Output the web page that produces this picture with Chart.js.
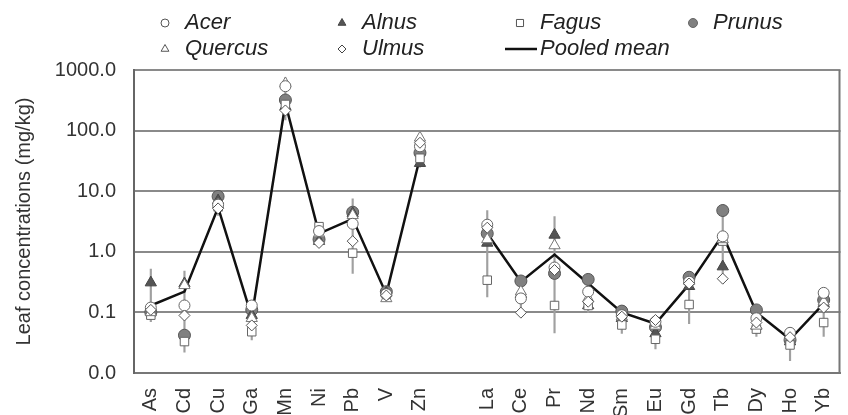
<!DOCTYPE html>
<html>
<head>
<meta charset="utf-8">
<script src="https://cdn.jsdelivr.net/npm/chart.js@4/dist/chart.umd.min.js"></script>
<style>
  html, body { margin: 0; padding: 0; background: #fff; }
  #wrap { width: 848px; height: 415px; }
</style>
</head>
<body>
<div id="wrap"><canvas id="graphiqueFeuilles"></canvas></div>
<script>
// elements (blank slot separates metals from rare earths)
const elements = ['As', 'Cd', 'Cu', 'Ga', 'Mn', 'Ni', 'Pb', 'V', 'Zn', '', 'La', 'Ce', 'Pr', 'Nd', 'Sm', 'Eu', 'Gd', 'Tb', 'Dy', 'Ho', 'Yb'];

const acer    = [0.12, 0.13, 6.0, 0.13, 540, 2.2, 2.9, 0.2, 55, null, 2.8, 0.17, 0.55, 0.22, 0.09, 0.07, 0.32, 1.8, 0.08, 0.046, 0.21];
const alnus   = [0.31, 0.3, 7.0, 0.09, 250, 1.5, 4.3, 0.21, 29, null, 1.4, 0.2, 1.9, 0.13, 0.08, 0.045, 0.27, 0.57, 0.06, 0.033, 0.14];
const fagus   = [0.09, 0.033, 5.5, 0.048, 270, 2.6, 0.95, 0.2, 35, null, 0.34, 0.18, 0.13, 0.13, 0.062, 0.036, 0.135, 1.5, 0.053, 0.029, 0.068];
const prunus  = [0.1, 0.042, 8.2, 0.11, 320, 1.6, 4.5, 0.22, 43, null, 2.0, 0.33, 0.44, 0.35, 0.105, 0.057, 0.38, 4.8, 0.11, 0.035, 0.16];
const quercus = [0.1, 0.28, 6.0, 0.08, 600, 2.0, 4.0, 0.17, 76, null, 1.6, 0.22, 1.27, 0.17, 0.085, 0.06, 0.33, 1.6, 0.06, 0.04, 0.15];
const ulmus   = [0.11, 0.089, 5.2, 0.061, 215, 1.4, 1.5, 0.19, 63, null, 2.5, 0.099, 0.5, 0.15, 0.085, 0.075, 0.3, 0.36, 0.068, 0.039, 0.12];
const pooledMean = [0.13, 0.22, 5.4, 0.085, 280, 2.0, 3.5, 0.2, 36, null, 2.0, 0.32, 0.9, 0.3, 0.1, 0.065, 0.29, 1.9, 0.1, 0.036, 0.14];

// spread (vertical grey bars)
const errLow  = [0.07, 0.022, 4, 0.035, 150, 1.2, 0.44, 0.15, 25, null, 0.18, 0.09, 0.046, 0.1, 0.045, 0.025, 0.065, 0.3, 0.04, 0.016, 0.04];
const errHigh = [0.52, 0.48, 10, 0.14, 740, 3.0, 7.5, 0.25, 80, null, 4.8, 0.35, 3.8, 0.38, 0.12, 0.08, 0.42, 6, 0.12, 0.05, 0.23];

const yTicks = [0.01, 0.1, 1, 10, 100, 1000];

const police = '"Liberation Sans", Arial, sans-serif';

function serie(label, data, style, fill, stroke, radius, order) {
    return {
        type: 'line',
        label: label,
        data: data,
        showLine: false,
        pointStyle: style,
        pointRadius: radius,
        pointBackgroundColor: fill,
        pointBorderColor: stroke,
        pointBorderWidth: 1,
        order: order
    };
}

const datasets = [
    serie('Ulmus', ulmus, 'rectRot', '#ffffff', '#555555', 5.5, 1),
    serie('Acer', acer, 'circle', '#ffffff', '#666666', 5.5, 2),
    serie('Quercus', quercus, 'triangle', '#ffffff', '#777777', 6.5, 3),
    serie('Fagus', fagus, 'rect', '#ffffff', '#666666', 6, 4),
    serie('Alnus', alnus, 'triangle', '#555555', '#444444', 6.5, 5),
    serie('Prunus', prunus, 'circle', '#808080', '#555555', 6, 6),
    {
        type: 'line',
        label: 'Pooled mean',
        data: pooledMean,
        borderColor: '#111111',
        borderWidth: 2.5,
        pointRadius: 0,
        spanGaps: false,
        tension: 0,
        order: 10
    },
    {
        type: 'bar',
        label: 'range',
        data: errLow.map((v, i) => v === null ? null : [v, errHigh[i]]),
        backgroundColor: '#a0a0a0',
        barThickness: 1.5,
        order: 20
    }
];

// legend laid out in two rows, like the original
const legendItems = [
    { text: 'Acer', x: 165, y: 23, style: 'circle', fill: '#fff', stroke: '#555', r: 4 },
    { text: 'Alnus', x: 342, y: 23, style: 'triangle', fill: '#555', stroke: '#444', r: 4.5 },
    { text: 'Fagus', x: 520, y: 23, style: 'rect', fill: '#fff', stroke: '#555', r: 5 },
    { text: 'Prunus', x: 693, y: 23, style: 'circle', fill: '#808080', stroke: '#666', r: 4.5 },
    { text: 'Quercus', x: 165, y: 49, style: 'triangle', fill: '#fff', stroke: '#555', r: 4.5 },
    { text: 'Ulmus', x: 342, y: 49, style: 'rectRot', fill: '#fff', stroke: '#444', r: 4 },
    { text: 'Pooled mean', x: 521, y: 49, style: 'line' }
];

const legendeGrille = {
    id: 'legendeGrille',
    afterDraw(chart) {
        const ctx = chart.ctx;
        ctx.save();
        legendItems.forEach(item => {
            if (item.style === 'line') {
                ctx.strokeStyle = '#111';
                ctx.lineWidth = 2.5;
                ctx.beginPath();
                ctx.moveTo(item.x - 16, item.y);
                ctx.lineTo(item.x + 16, item.y);
                ctx.stroke();
            } else {
                ctx.fillStyle = item.fill;
                ctx.strokeStyle = item.stroke;
                ctx.lineWidth = 1;
                Chart.helpers.drawPoint(ctx, { pointStyle: item.style, radius: item.r, rotation: 0, borderWidth: 1 }, item.x, item.y);
            }
            ctx.fillStyle = '#222';
            ctx.font = 'italic 22px ' + police;
            ctx.textBaseline = 'middle';
            ctx.textAlign = 'left';
            ctx.fillText(item.text, item.style === 'line' ? item.x + 19 : item.x + 20, item.y);
        });
        // right edge of the frame
        const a = chart.chartArea;
        const xr = Math.min(a.right, chart.width - 1) - 1;
        ctx.strokeStyle = '#777';
        ctx.lineWidth = 2;
        ctx.beginPath();
        ctx.moveTo(xr, a.top);
        ctx.lineTo(xr, a.bottom);
        ctx.stroke();
        ctx.restore();
    }
};

new Chart(document.getElementById('graphiqueFeuilles').getContext('2d'), {
    data: {
        labels: elements,
        datasets: datasets
    },
    options: {
        responsive: true,
        maintainAspectRatio: false,
        animation: false,
        layout: {
            padding: { top: 70, right: 1, bottom: 0, left: 0 }
        },
        plugins: {
            legend: { display: false },
            tooltip: { enabled: false }
        },
        scales: {
            x: {
                type: 'category',
                offset: true,
                afterFit: scale => {
                    scale.height = 42;
                    scale.paddingLeft = 0;
                    scale.paddingRight = 0;
                },
                grid: { display: false, drawTicks: false },
                border: { display: true, color: '#777', width: 2 },
                ticks: {
                    autoSkip: false,
                    maxRotation: 90,
                    minRotation: 90,
                    padding: 15,
                    color: '#333',
                    font: { family: police, size: 20 }
                }
            },
            y: {
                type: 'logarithmic',
                min: 0.01,
                max: 1000,
                afterFit: scale => { scale.width = 134; },
                afterBuildTicks: axis => {
                    axis.ticks = yTicks.map(v => ({ value: v }));
                },
                grid: { color: '#8a8a8a', lineWidth: 2, drawTicks: false },
                border: { display: true, color: '#666', width: 2 },
                ticks: {
                    padding: 18,
                    color: '#333',
                    font: { family: police, size: 20 },
                    callback: v => Number(v).toFixed(1)
                },
                title: {
                    display: true,
                    text: 'Leaf concentrations (mg/kg)',
                    color: '#333',
                    font: { family: police, size: 20 },
                    padding: { top: 12, bottom: 8 }
                }
            }
        }
    },
    plugins: [legendeGrille]
});
</script>
</body>
</html>
